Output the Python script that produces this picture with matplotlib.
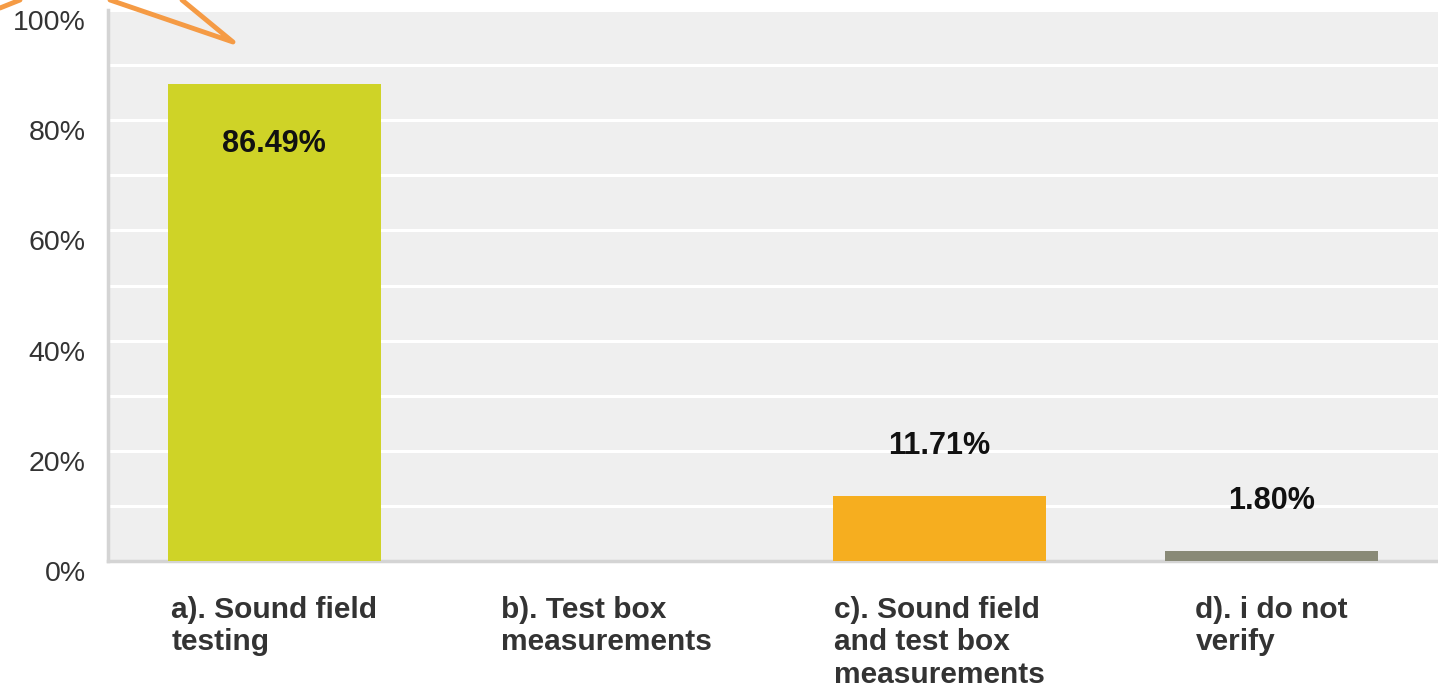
import numpy as np
import matplotlib.pyplot as plt
from matplotlib.lines import Line2D
from matplotlib.transforms import ScaledTranslation

plt.rcParams['font.family'] = ['Liberation Sans', 'DejaVu Sans']

categories = ['a). Sound field\ntesting',
              'b). Test box\nmeasurements',
              'c). Sound field\nand test box\nmeasurements',
              'd). i do not\nverify']
shares     = [86.49, 0.0, 11.71, 1.80]
colors     = ['#cfd327', '#f0f0f0', '#f6ae1f', '#898a77']
yticks     = [0, 20, 40, 60, 80, 100]

W, H = 1438, 696
fig = plt.figure(figsize=(W/100, H/100), dpi=100)
ax = fig.add_axes([108/W, 1-561/H, (W-108)/W, 551/H])
ax.set_facecolor('#efefef')

x = np.arange(len(categories))
ax.bar(x, shares, width=0.64, color=colors, zorder=3)

# value labels: inside the tall bar, above the short ones
for xi, v in zip(x, shares):
    if v <= 0:
        continue
    dy = -43 if v > 50 else 36
    ax.annotate(f'{v:.2f}%', (xi, v), xytext=(0, dy), textcoords='offset points',
                ha='center', va='center', fontsize=22, fontweight='bold', color='#111111', zorder=4)

ax.set_xlim(-0.5, len(categories)-0.5)
ax.set_ylim(0, 100)
ax.set_yticks(yticks)
ax.set_yticklabels([f'{t}%' for t in yticks], fontsize=20.5, color='#333333')
ax.set_yticks(np.arange(10, 100, 20), minor=True)
ax.grid(axis='y', which='both', color='white', linewidth=2.2, zorder=1)
ax.tick_params(axis='y', which='both', length=0, pad=16)
for lab in ax.get_yticklabels():
    lab.set_transform(lab.get_transform() + ScaledTranslation(0, -0.10, fig.dpi_scale_trans))

ax.set_xticks(x)
ax.set_xticklabels(categories, fontsize=21.5, fontweight='bold', color='#333333',
                   multialignment='left', linespacing=1.2)
ax.tick_params(axis='x', length=0, pad=25)

for side in ['top', 'right']:
    ax.spines[side].set_visible(False)
for side in ['left', 'bottom']:
    ax.spines[side].set_color('#d4d4d4')
    ax.spines[side].set_linewidth(2.5)

# orange callout tail in the top-left corner
tail_x = [110, 233, 182]
tail_y = [0, 42, 0]
fig.add_artist(Line2D([px/W for px in tail_x], [1-py/H for py in tail_y],
                      transform=fig.transFigure, color='#f59b45', linewidth=3.5,
                      solid_joinstyle='round', solid_capstyle='round'))
fig.add_artist(Line2D([0, 20/W], [1-8/H, 1.0], transform=fig.transFigure,
                      color='#f59b45', linewidth=3.5, solid_capstyle='round'))

fig.savefig('out.png', dpi=100)
